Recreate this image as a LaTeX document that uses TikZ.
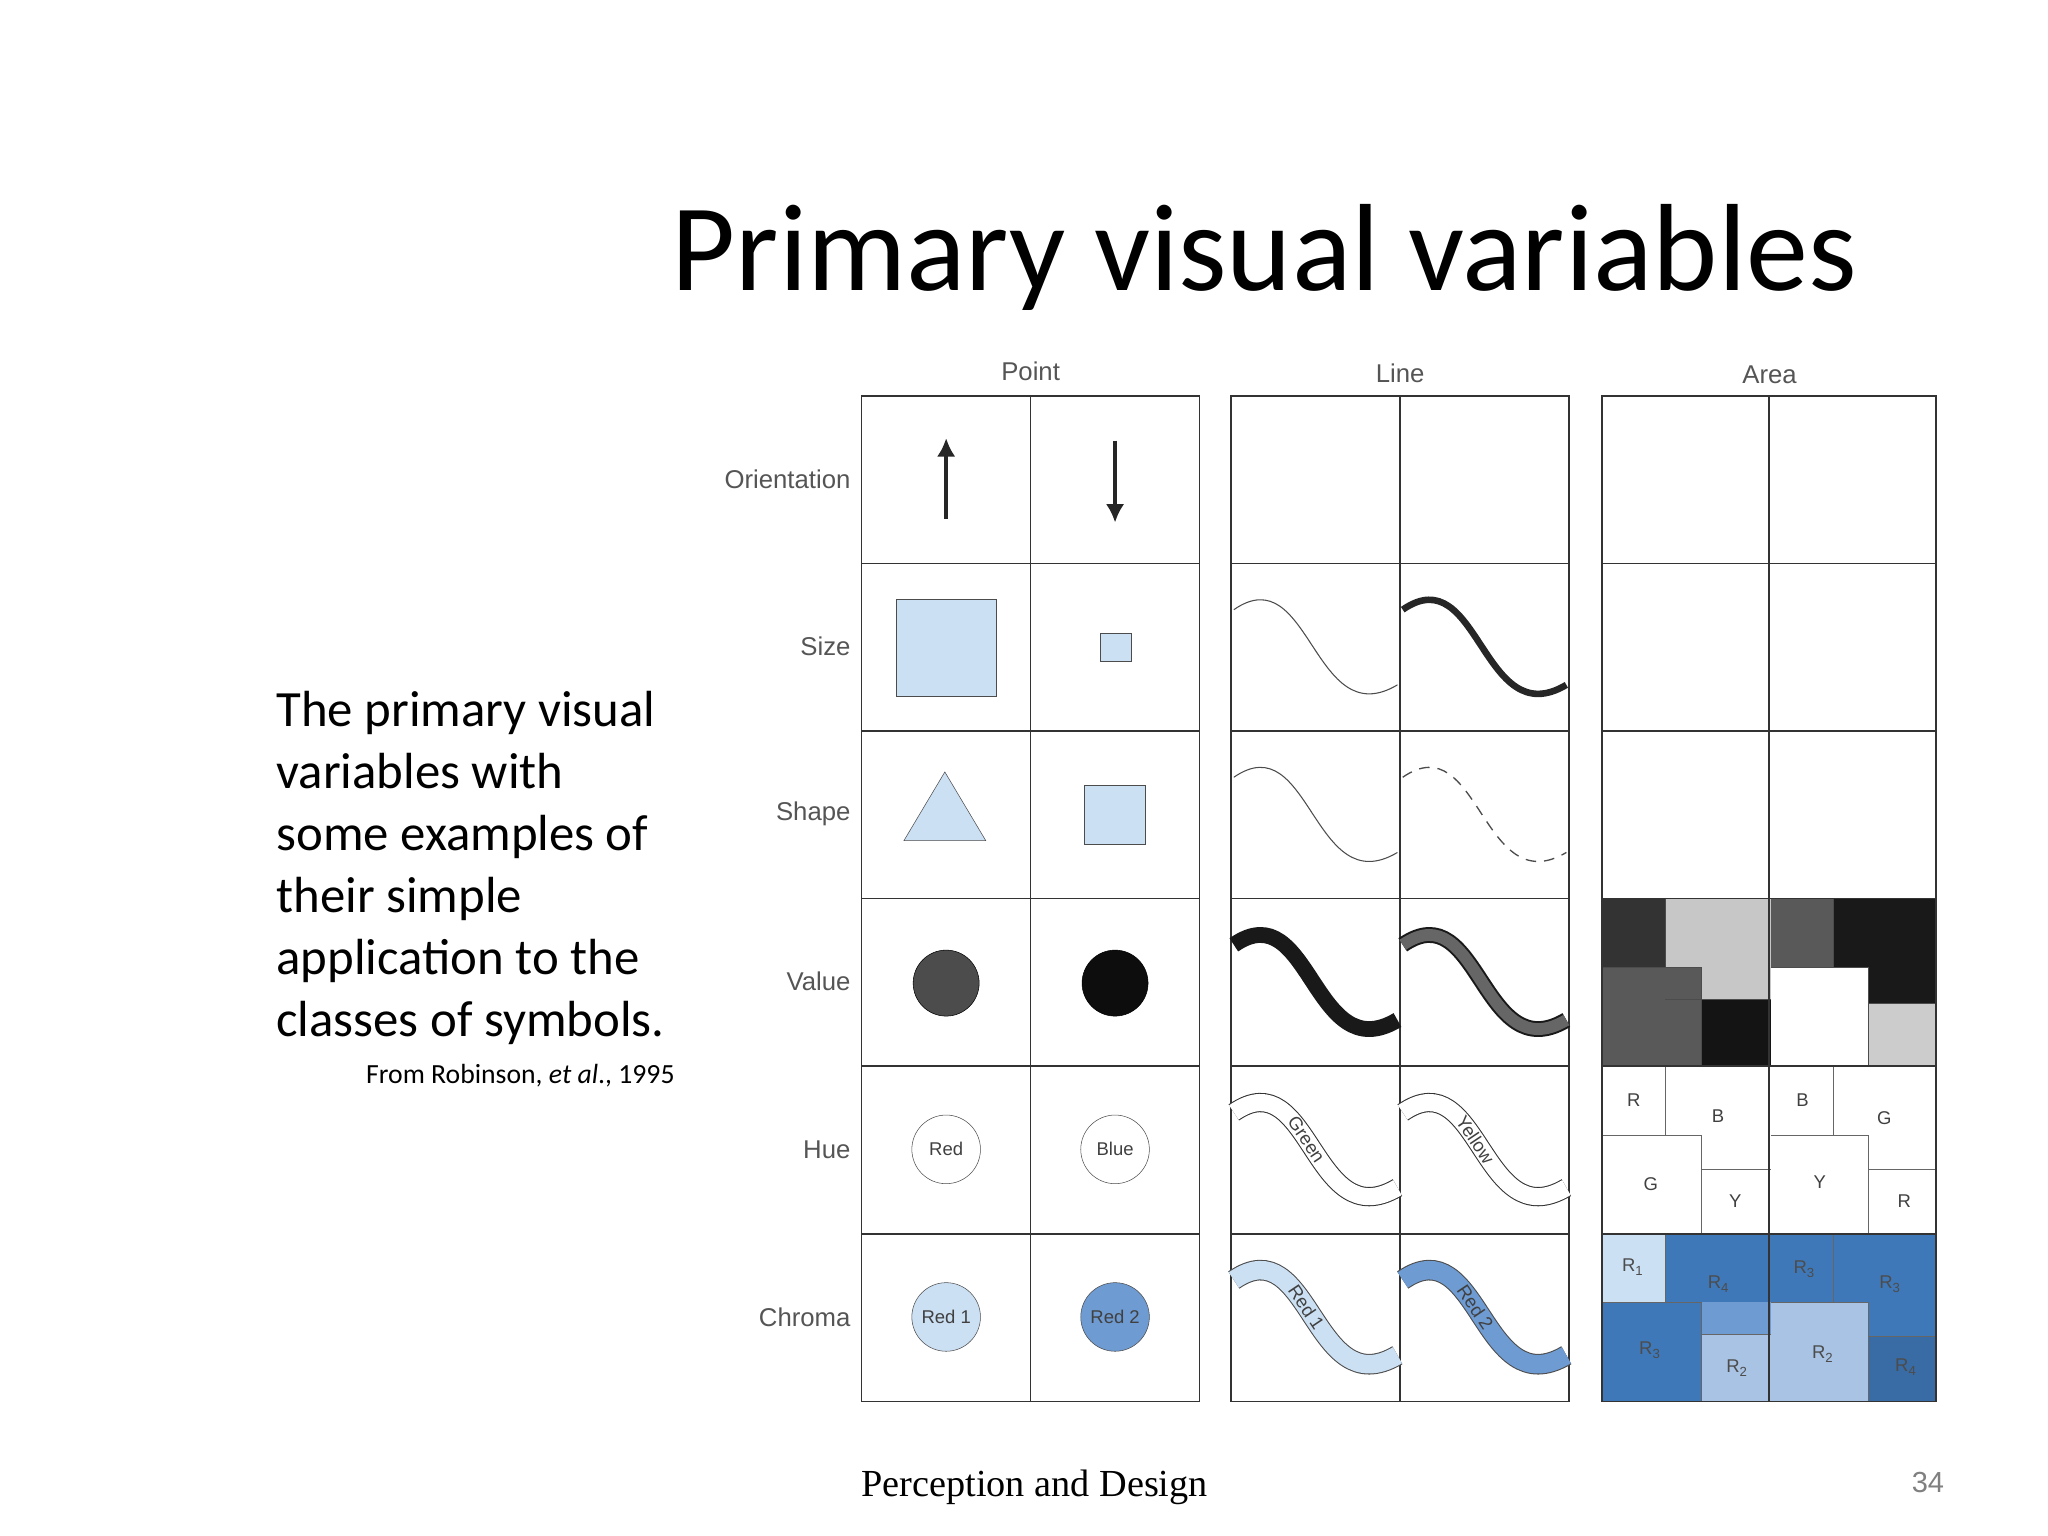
\documentclass[tikz,border=0pt]{standalone}
\usepackage{fontspec}
\setmainfont{Carlito}
\newfontfamily\arial{Liberation Sans}
\newfontfamily\serfont{Liberation Serif}
\usetikzlibrary{arrows.meta}
\definecolor{lb}{HTML}{CCE0F4}
\definecolor{mb}{HTML}{6E9BD2}
\definecolor{db}{HTML}{3F78B8}
\definecolor{lab}{HTML}{555555}
\tikzset{cell/.style={draw=black!80,line width=1.2pt},
 lbl/.style={font=\arial\fontsize{19.5}{22}\selectfont,text=lab},
 sm/.style={font=\arial\fontsize{14}{16}\selectfont,text=black!75},
 wave/.pic={\draw[pic actions] (2,35) .. controls (60,-5) and (62,130) .. (126,92);}}
\begin{document}
\begin{tikzpicture}[x=1pt,y=-1pt]
\useasboundingbox (0,0) rectangle (1552,1164);
\node[font=\fontsize{94}{100}\selectfont,anchor=base] (title) at (958,220) {Primary visual variables};
\node[anchor=north west,align=left,font=\fontsize{38.5}{47}\selectfont] (txt) at (206,520) {The primary visual\\variables with\\some examples of\\their simple\\application to the\\classes of symbols.};
\node[anchor=base west,font=\fontsize{21}{23}\selectfont] (src) at (274,821) {From Robinson, \textit{et al}., 1995};
\node[anchor=base,font=\serfont\fontsize{29}{32}\selectfont] (foot) at (784,1134) {Perception and Design};
\node[anchor=base,font=\arial\fontsize{22}{24}\selectfont,text=black!50] (pg) at (1461,1131) {34};
% headers
\node[lbl] (hp) at (781,281) {Point};
\node[lbl] (hl) at (1061,283) {Line};
\node[lbl] (ha) at (1341,284) {Area};
\foreach \t/\y [count=\i] in {Orientation/363,Size/490,Shape/617,Value/744,Hue/871,Chroma/998}
  \node[lbl,anchor=east] (r\i) at (648,\y) {\t};
% area mosaics value row
\fill[black!80] (1214,681) rectangle (1262,733);
\fill[black!22] (1262,681) rectangle (1342,757);
\fill[black!65] (1214,733) rectangle (1289,808);
\fill[black!92] (1289,757) rectangle (1342,808);
\fill[black!65] (1342,681) rectangle (1389,733);
\fill[black!90] (1389,681) rectangle (1467,760);
\fill[white] (1342,733) rectangle (1416,808);
\fill[black!20] (1416,760) rectangle (1467,808);
\draw[black!70] (1262,681)--(1262,733) (1214,733)--(1289,733)--(1289,808) (1262,757)--(1342,757)
  (1389,681)--(1389,733) (1342,733)--(1416,733)--(1416,808) (1416,760)--(1467,760);
% hue row
\draw[black!60] (1262,808)--(1262,860) (1214,860)--(1289,860)--(1289,935) (1289,886)--(1342,886)
  (1389,808)--(1389,860) (1342,860)--(1416,860)--(1416,935) (1416,886)--(1467,886);
\foreach \t/\x/\y [count=\k] in {R/1238/834,B/1302/846,G/1251/897,Y/1315/910,B/1366/834,G/1428/847,Y/1379/896,R/1443/910}
  \node[sm] (h\k) at (\x,\y) {\t};
% chroma row
\fill[lb] (1214,935) rectangle (1262,987);
\fill[db] (1262,935) rectangle (1342,987);
\fill[db] (1214,987) rectangle (1289,1062);
\fill[mb!60] (1289,1011) rectangle (1342,1062);
\fill[db] (1262,987) rectangle (1289,1011);
\fill[mb] (1289,987) rectangle (1342,1011);
\fill[db] (1342,935) rectangle (1467,1062);
\fill[mb!60] (1342,987) rectangle (1416,1062);
\fill[db!90!black] (1416,1013) rectangle (1467,1062);
\draw[black!60] (1262,935)--(1262,987) (1214,987)--(1289,987)--(1289,1062) (1289,1011)--(1342,1011)
  (1389,935)--(1389,987) (1342,987)--(1416,987)--(1416,1062) (1416,1013)--(1467,1013);
\foreach \n/\x/\y [count=\k] in {1/1237/960,4/1302/973,3/1250/1023,2/1316/1037,3/1367/962,3/1432/973,2/1381/1026,4/1444/1036}
  \node[sm,text=black!70] (c\k) at (\x,\y) {R\raisebox{-3pt}{\fontsize{10}{10}\selectfont\n}};
% grids
\foreach \x/\w in {653/128,933/128,1214/126.5}{
  \foreach \r in {0,...,5}{
    \draw[cell] (\x,300+127*\r) rectangle ++(\w,127);
    \draw[cell] (\x+\w,300+127*\r) rectangle ++(\w,127);}}
% point symbols
\draw[black!85,line width=3pt,-{Latex[length=14pt,width=14pt]}] (717,393) -- (717,332);
\draw[black!85,line width=3pt,-{Latex[length=14pt,width=14pt]}] (845,334) -- (845,396);
\draw[fill=lb,draw=black!70] (679,454) rectangle (755,528);
\draw[fill=lb,draw=black!70] (834,480) rectangle (857,501);
\draw[fill=lb,draw=black!70] (685,637) -- (716,585) -- (747,637) -- cycle;
\draw[fill=lb,draw=black!70] (822,595) rectangle (868,640);
\draw[fill=black!70,draw=black] (717,745) circle (25);
\draw[fill=black!95,draw=black] (845,745) circle (25);
\node[circle,draw=black!70,minimum size=52pt,inner sep=0,sm] (hr) at (717,871) {Red};
\node[circle,draw=black!70,minimum size=52pt,inner sep=0,sm] (hb) at (845,871) {Blue};
\node[circle,draw=black!70,fill=lb,minimum size=52pt,inner sep=0,sm] (cr1) at (717,998) {Red 1};
\node[circle,draw=black!70,fill=mb,minimum size=52pt,inner sep=0,sm] (cr2) at (845,998) {Red 2};
% lines
\pic[draw=black!70,line width=0.8pt] at (933,427) {wave};
\pic[draw=black!85,line width=5pt] at (1061,427) {wave};
\pic[draw=black!70,line width=0.8pt] at (933,554) {wave};
\pic[draw=black!70,line width=1pt,dash pattern=on 8pt off 6pt] at (1061,554) {wave};
\pic[draw=black!90,line width=12pt] at (933,681) {wave};
\pic[draw=black!90,line width=1.5pt,double=black!60,double distance=9pt] at (1061,681) {wave};
\begin{scope}[shift={(933,808)}]
\draw[black!80,line width=0.8pt,double=white,double distance=13pt] (2,35) .. controls (60,-5) and (62,130) .. (126,92) node[pos=0.45,sloped,sm] (lg) {Green};
\end{scope}
\begin{scope}[shift={(1061,808)}]
\draw[black!80,line width=0.8pt,double=white,double distance=13pt] (2,35) .. controls (60,-5) and (62,130) .. (126,92) node[pos=0.45,sloped,sm] (ly) {Yellow};
\end{scope}
\begin{scope}[shift={(933,935)}]
\draw[black!70,line width=0.8pt,double=lb,double distance=14pt] (2,35) .. controls (60,-5) and (62,130) .. (126,92) node[pos=0.45,sloped,sm] (l1) {Red 1};
\end{scope}
\begin{scope}[shift={(1061,935)}]
\draw[black!70,line width=0.8pt,double=mb,double distance=14pt] (2,35) .. controls (60,-5) and (62,130) .. (126,92) node[pos=0.45,sloped,sm] (l2) {Red 2};
\end{scope}
\end{tikzpicture}
\end{document}
